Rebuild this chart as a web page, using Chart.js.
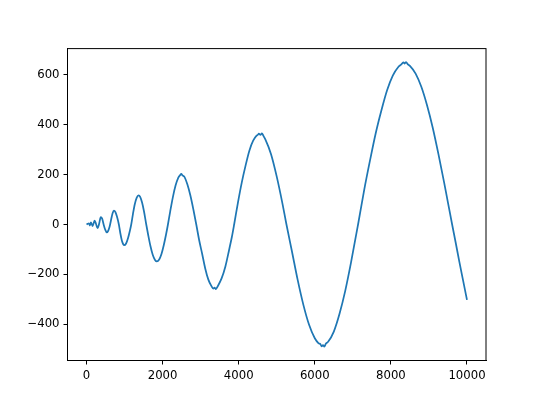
<!DOCTYPE html>
<html>
<head>
<meta charset="utf-8">
<script src="https://cdn.jsdelivr.net/npm/chart.js@4/dist/chart.umd.min.js"></script>
<style>
  html, body { margin: 0; padding: 0; background: #fff; }
  canvas { display: block; }
</style>
</head>
<body>
<canvas id="chart" width="540" height="405"></canvas>
<script>
// values
const xs = [
    0, 30, 63, 86, 117, 158, 185, 214, 250, 290, 310, 330, 355, 376, 410, 450, 490, 534,
    570, 600, 620, 650, 685, 720, 760, 800, 850, 890, 930, 965, 991,
    1040, 1090, 1135, 1175, 1220, 1270, 1320, 1368, 1410, 1460, 1510, 1570,
    1620, 1680, 1740, 1800, 1849, 1910, 1970, 2030, 2090, 2140,
    2200, 2270, 2340, 2410, 2460, 2491, 2520, 2570, 2650, 2730, 2810, 2885,
    2960, 3040, 3120, 3200, 3280, 3330, 3366, 3400, 3450, 3550, 3650, 3750, 3820, 3880,
    3980, 4080, 4180, 4280, 4380, 4470, 4500, 4530, 4570, 4610, 4650, 4700,
    4850, 5000, 5150, 5250, 5400, 5550, 5700, 5850, 6000, 6100, 6150, 6180, 6215, 6250, 6290,
    6350, 6500, 6650, 6800, 6950, 7137, 7300, 7450, 7600, 7750, 7900, 8050, 8200,
    8260, 8300, 8330, 8363, 8400, 8440, 8500, 8650, 8800, 8950, 9100, 9250, 9400, 9500,
    9610, 9700, 9800, 9900, 10000
];
const ys = [
    0, 3, 5, -4, 9, -6, 4, 16, 2, -14, -8, 2, 20, 30, 24, 0, -20, -32,
    -25, -12, 0, 22, 45, 56, 50, 32, 0, -36, -65, -79, -83,
    -76, -55, -28, 0, 42, 82, 108, 117, 111, 88, 53, 0,
    -41, -86, -121, -142, -148, -140, -118, -83, -40, 0,
    53, 110, 156, 187, 198, 203, 197, 192, 161, 116, 59, 0,
    -62, -118, -176, -220, -246, -257, -253, -259, -247, -216, -168, -100, -50, 0,
    88, 168, 236, 296, 336, 356, 359, 364, 359, 365, 355, 341,
    282, 192, 84, 4, -108, -222, -322, -402, -456, -476, -480, -488, -483, -489, -478,
    -470, -429, -358, -266, -154, 0, 140, 256, 365, 457, 538, 597, 632,
    640, 646, 650, 645, 651, 643, 636, 605, 552, 478, 388, 282, 168, 88,
    0, -70, -150, -226, -302
];
const xTicks = [0, 2000, 4000, 6000, 8000, 10000];
const yTicks = [-400, -200, 0, 200, 400, 600];

Chart.defaults.font.family = "'DejaVu Sans', sans-serif";
Chart.defaults.font.size = 11.7;
Chart.defaults.color = '#000';

// matplotlib style minus sign
function fmt(v) {
    return v < 0 ? '\u2212' + Math.abs(v) : String(v);
}

// full box round the plot area (top and right spines)
const frame = {
    id: 'frame',
    afterDraw(chart) {
        const a = chart.chartArea;
        const ctx = chart.ctx;
        ctx.save();
        ctx.strokeStyle = '#000';
        ctx.lineWidth = 1;
        ctx.strokeRect(a.left, a.top, a.right - a.left, a.bottom - a.top);
        ctx.restore();
    }
};

const ctx = document.getElementById('chart').getContext('2d');
let chart = new Chart(ctx, {
    type: 'line',
    data: {
        datasets: [{
            data: xs.map((x, i) => ({ x: x, y: ys[i] })),
            borderColor: '#1f77b4',
            borderWidth: 1.75,
            pointRadius: 0,
            fill: false,
            cubicInterpolationMode: 'monotone'
        }]
    },
    options: {
        responsive: false,
        animation: false,
        devicePixelRatio: 1,
        layout: { padding: { left: 0, top: 48.6, right: 54, bottom: 0 } },
        plugins: {
            legend: { display: false },
            tooltip: { enabled: false }
        },
        scales: {
            x: {
                type: 'linear',
                min: -500,
                max: 10500,
                afterBuildTicks: (s) => { s.ticks = xTicks.map(v => ({ value: v })); },
                afterFit: (s) => { s.height = 44.5; },
                grid: { drawOnChartArea: false, tickLength: 4, color: '#000', tickWidth: 1 },
                border: { display: true, color: '#000', width: 1 },
                ticks: { padding: 4, maxRotation: 0, autoSkip: false, callback: fmt }
            },
            y: {
                type: 'linear',
                min: -545,
                max: 705,
                afterBuildTicks: (s) => { s.ticks = yTicks.map(v => ({ value: v })); },
                afterFit: (s) => { s.width = 67.5; },
                grid: { drawOnChartArea: false, tickLength: 4, color: '#000', tickWidth: 1 },
                border: { display: true, color: '#000', width: 1 },
                ticks: { padding: 4, autoSkip: false, callback: fmt }
            }
        }
    },
    plugins: [frame]
});
</script>
</body>
</html>
